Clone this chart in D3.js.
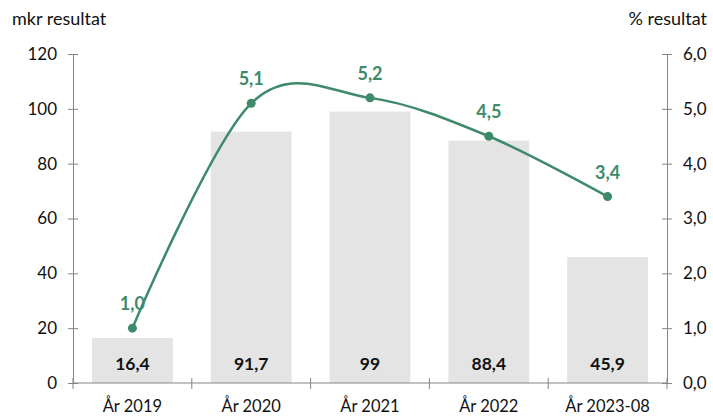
<!DOCTYPE html>
<html>
<head>
<meta charset="utf-8">
<script src="https://cdn.jsdelivr.net/npm/d3@7"></script>
<style>
  body { margin: 0; background: #fff; }
  svg text { font-family: Lato, "Open Sans", sans-serif; }
</style>
</head>
<body>
<div id="chart"></div>
<script>
// Values
const categories = ["År 2019", "År 2020", "År 2021", "År 2022", "År 2023-08"];
const mkrResult = [16.4, 91.7, 99, 88.4, 45.9];
const pctResult = [1.0, 5.1, 5.2, 4.5, 3.4];
const leftTicks = [0, 20, 40, 60, 80, 100, 120];
const rightTicks = [0, 1, 2, 3, 4, 5, 6];

const width = 713;
const height = 416;
const margin = { top: 54, right: 46, bottom: 33, left: 73 };

const green = "#3e8a6b";
const barColor = "#e4e4e4";
const axisColor = "#858585";
const fmt = (v) => v.toFixed(1).replace(".", ",");
const fmtBar = (v) => (Number.isInteger(v) ? String(v) : fmt(v));

const svg = d3
  .select("#chart")
  .append("svg")
  .attr("width", width)
  .attr("height", height);

const x = d3
  .scaleBand()
  .domain(categories)
  .range([margin.left, width - margin.right])
  .paddingInner(0.32)
  .paddingOuter(0.16);

const yL = d3
  .scaleLinear()
  .domain([0, 120])
  .range([height - margin.bottom, margin.top]);

const yR = d3
  .scaleLinear()
  .domain([0, 6])
  .range([height - margin.bottom, margin.top]);

// Bars
svg
  .append("g")
  .selectAll("rect")
  .data(mkrResult)
  .join("rect")
  .attr("x", (d, i) => x(categories[i]))
  .attr("y", (d) => yL(d))
  .attr("width", x.bandwidth())
  .attr("height", (d) => yL(0) - yL(d))
  .attr("fill", barColor);

// Bar labels
svg
  .append("g")
  .selectAll("text")
  .data(mkrResult)
  .join("text")
  .attr("x", (d, i) => x(categories[i]) + x.bandwidth() / 2)
  .attr("y", yL(0) - 13)
  .attr("text-anchor", "middle")
  .attr("font-size", "17.5px")
  .attr("font-weight", "bold")
  .attr("fill", "#111")
  .text(fmtBar);

// Left axis
const leftAxis = svg
  .append("g")
  .attr("transform", `translate(${margin.left},0)`)
  .call(d3.axisLeft(yL).tickValues(leftTicks).tickSize(5).tickPadding(11));
leftAxis.selectAll(".tick line").attr("x2", 5).attr("x1", -5);

// Right axis
const rightAxis = svg
  .append("g")
  .attr("transform", `translate(${width - margin.right},0)`)
  .call(
    d3.axisRight(yR).tickValues(rightTicks).tickFormat(fmt).tickSize(5).tickPadding(11)
  );
rightAxis.selectAll(".tick line").attr("x1", -5).attr("x2", 5);

[leftAxis, rightAxis].forEach((g) => {
  g.select(".domain").attr("stroke", axisColor);
  g.selectAll(".tick line").attr("stroke", axisColor);
  g.selectAll(".tick text").attr("font-size", "17px").attr("fill", "#111");
});

// Bottom axis with ticks at category boundaries
const bottom = svg.append("g").attr("transform", `translate(0,${yL(0)})`);
bottom
  .append("line")
  .attr("x1", margin.left)
  .attr("x2", width - margin.right)
  .attr("stroke", axisColor);
const [x0, x1] = x.range();
bottom
  .selectAll("line.cat")
  .data(d3.range(categories.length + 1))
  .join("line")
  .attr("class", "cat")
  .attr("x1", (i) => x0 + (i * (x1 - x0)) / categories.length)
  .attr("x2", (i) => x0 + (i * (x1 - x0)) / categories.length)
  .attr("y1", -5)
  .attr("y2", 6)
  .attr("stroke", axisColor);
bottom
  .selectAll("text")
  .data(categories)
  .join("text")
  .attr("x", (d) => x(d) + x.bandwidth() / 2)
  .attr("y", 29)
  .attr("text-anchor", "middle")
  .attr("font-size", "16.5px")
  .attr("fill", "#111")
  .text((d) => d);

// Line
const pts = pctResult.map((v, i) => [x(categories[i]) + x.bandwidth() / 2, yR(v)]);
svg
  .append("path")
  .datum(pts)
  .attr("fill", "none")
  .attr("stroke", green)
  .attr("stroke-width", 2.5)
  .attr("d", d3.line().curve(d3.curveCardinal.tension(0)));

svg
  .append("g")
  .selectAll("circle")
  .data(pts)
  .join("circle")
  .attr("cx", (d) => d[0])
  .attr("cy", (d) => d[1])
  .attr("r", 4.5)
  .attr("fill", green);

svg
  .append("g")
  .selectAll("text")
  .data(pctResult)
  .join("text")
  .attr("x", (d, i) => pts[i][0])
  .attr("y", (d, i) => pts[i][1] - 18)
  .attr("text-anchor", "middle")
  .attr("font-size", "18px")
  .attr("font-weight", "bold")
  .attr("fill", green)
  .text(fmt);

// Axis titles
svg
  .append("text")
  .attr("x", 12)
  .attr("y", 25)
  .attr("font-size", "18px")
  .attr("fill", "#111")
  .text("mkr resultat");
svg
  .append("text")
  .attr("x", 707)
  .attr("y", 25)
  .attr("text-anchor", "end")
  .attr("font-size", "18px")
  .attr("fill", "#111")
  .text("% resultat");
</script>
</body>
</html>
